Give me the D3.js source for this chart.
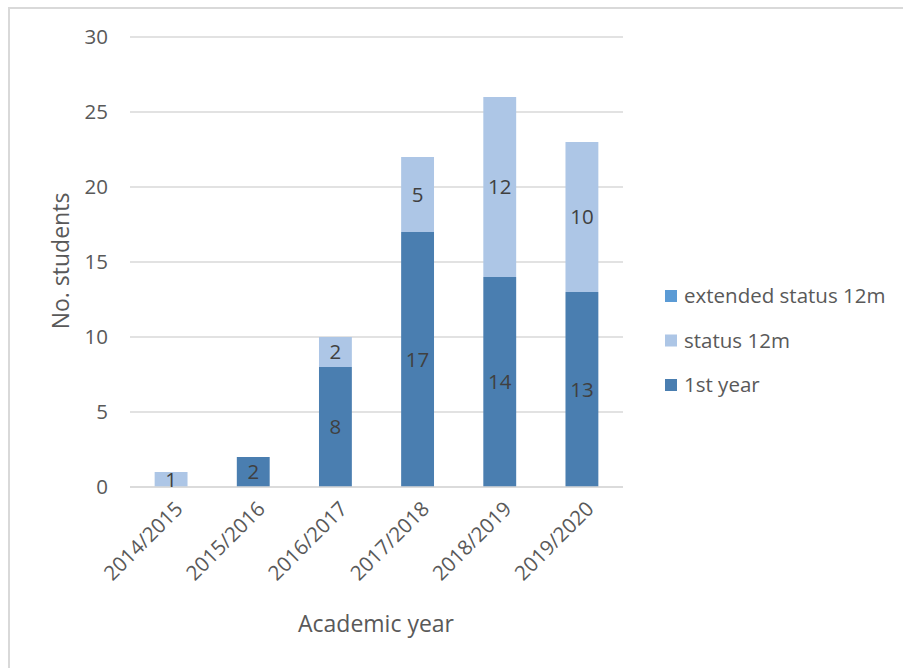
<!DOCTYPE html>
<html>
<head>
<meta charset="utf-8">
<script src="https://cdn.jsdelivr.net/npm/d3@7"></script>
<style>
  html, body { margin: 0; padding: 0; background: #fff; }
  svg { display: block; font-family: "Open Sans", sans-serif; }
</style>
</head>
<body>
<svg id="chart" width="903" height="668"></svg>
<script>
// ---- data ----
const categories = ["2014/2015", "2015/2016", "2016/2017", "2017/2018", "2018/2019", "2019/2020"];
const firstYear = [null, 2, 8, 17, 14, 13];
const status12m = [1, null, 2, 5, 12, 10];
const extendedStatus12m = [null, null, null, null, null, null];
const yTicks = [0, 5, 10, 15, 20, 25, 30];
const seriesNames = ["1st year", "status 12m", "extended status 12m"];
const seriesColors = ["#4a7eb0", "#adc6e6", "#5b9bd5"];

// ---- layout ----
const svg = d3.select("#chart");
const W = 903, H = 668;
const plot = { left: 130, right: 623, top: 37, bottom: 487 };

// outer border
svg.append("rect")
  .attr("x", 9).attr("y", 8)
  .attr("width", W + 10).attr("height", H + 10)
  .attr("fill", "none").attr("stroke", "#d9d9d9").attr("stroke-width", 2);

const x = d3.scaleBand().domain(categories)
  .range([plot.left, plot.right]).paddingInner(0.6).paddingOuter(0.3);
const y = d3.scaleLinear().domain([0, 30]).range([plot.bottom, plot.top]);

// gridlines
svg.append("g").selectAll("line").data(yTicks).join("line")
  .attr("x1", plot.left).attr("x2", plot.right)
  .attr("y1", d => y(d)).attr("y2", d => y(d))
  .attr("stroke", "#d9d9d9").attr("stroke-width", 1.6);

// y axis tick labels via d3 axis
const yAxis = svg.append("g")
  .attr("transform", `translate(${plot.left - 22},0)`)
  .call(d3.axisLeft(y).tickValues(yTicks).tickSize(0).tickPadding(0));
yAxis.select(".domain").remove();
yAxis.selectAll("text")
  .attr("fill", "#595959").style("font-size", "20.5px")
  .style("font-family", "'Open Sans', sans-serif");

// stacked data
const table = categories.map((c, i) => ({
  cat: c,
  "1st year": firstYear[i] || 0,
  "status 12m": status12m[i] || 0,
  "extended status 12m": extendedStatus12m[i] || 0
}));
const rawBySeries = {
  "1st year": firstYear,
  "status 12m": status12m,
  "extended status 12m": extendedStatus12m
};
const stack = d3.stack().keys(seriesNames)(table);

const gBars = svg.append("g");
stack.forEach((layer, si) => {
  gBars.append("g").attr("fill", seriesColors[si])
    .selectAll("rect").data(layer).join("rect")
    .attr("x", d => x(d.data.cat))
    .attr("width", x.bandwidth())
    .attr("y", d => y(d[1]))
    .attr("height", d => y(d[0]) - y(d[1]));
});

// baseline axis line
svg.append("line")
  .attr("x1", plot.left).attr("x2", plot.right)
  .attr("y1", y(0)).attr("y2", y(0))
  .attr("stroke", "#d9d9d9").attr("stroke-width", 1.6);

// data labels
stack.forEach((layer, si) => {
  const raw = rawBySeries[seriesNames[si]];
  svg.append("g").selectAll("text")
    .data(layer.filter((d, i) => raw[i] != null && raw[i] !== 0))
    .join("text")
    .attr("x", d => x(d.data.cat) + x.bandwidth() / 2)
    .attr("y", d => y((d[0] + d[1]) / 2))
    .attr("dy", "0.36em")
    .attr("text-anchor", "middle")
    .attr("fill", "#404040")
    .style("font-size", "20.5px")
    .text(d => d[1] - d[0]);
});

// x axis labels (rotated)
const xAxis = svg.append("g")
  .attr("transform", `translate(0,${plot.bottom})`)
  .call(d3.axisBottom(x).tickSize(0).tickPadding(0));
xAxis.select(".domain").remove();
xAxis.selectAll("text")
  .attr("fill", "#595959")
  .style("font-size", "20.5px")
  .style("font-family", "'Open Sans', sans-serif")
  .attr("text-anchor", "end")
  .attr("dy", "0.35em")
  .attr("transform", "translate(8,18) rotate(-45)");

// axis titles
svg.append("text")
  .attr("x", 376).attr("y", 624)
  .attr("dy", "0.35em")
  .attr("text-anchor", "middle")
  .attr("fill", "#595959")
  .style("font-size", "23px")
  .text("Academic year");

svg.append("text")
  .attr("transform", "translate(61,261) rotate(-90)")
  .attr("dy", "0.35em")
  .attr("text-anchor", "middle")
  .attr("fill", "#595959")
  .style("font-size", "23px")
  .text("No. students");

// legend (reverse order, top = extended)
const legendItems = seriesNames.slice().reverse();
const legendColors = seriesColors.slice().reverse();
const gLeg = svg.append("g");
legendItems.forEach((name, i) => {
  const cy = 296 + i * 44.5;
  gLeg.append("rect")
    .attr("x", 665).attr("y", cy - 6)
    .attr("width", 12).attr("height", 12)
    .attr("fill", legendColors[i]);
  gLeg.append("text")
    .attr("x", 684).attr("y", cy)
    .attr("dy", "0.35em")
    .attr("fill", "#595959")
    .style("font-size", "20.5px")
    .text(name);
});
</script>
</body>
</html>
